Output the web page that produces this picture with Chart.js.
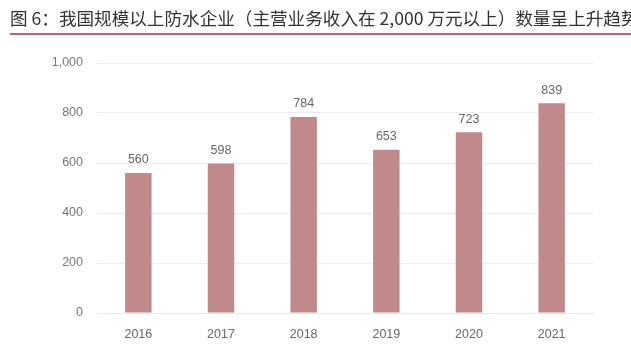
<!DOCTYPE html>
<html>
<head>
<meta charset="utf-8">
<script src="https://cdn.jsdelivr.net/npm/chart.js@4/dist/chart.umd.min.js"></script>
<style>
	body { margin: 0; background: #fff; }
	#wrap { position: relative; width: 631px; height: 353px; overflow: hidden; }
	#title {
		position: absolute; left: 10px; top: 6px; width: 640px;
		font-family: "Noto Sans CJK SC", sans-serif; font-size: 17.6px; color: #333;
		white-space: nowrap; line-height: 24px;
		padding-bottom: 3px; border-bottom: 2px solid #c4606a;
	}
	#chart { position: absolute; left: 0; top: 0; }
</style>
</head>
<body>
<div id="wrap">
	<canvas id="chart" width="631" height="353"></canvas>
	<div id="title">图 6：我国规模以上防水企业（主营业务收入在 2,000 万元以上）数量呈上升趋势</div>
</div>
<script>
const years = ['2016', '2017', '2018', '2019', '2020', '2021'];
const companyCounts = [560, 598, 784, 653, 723, 839];

// value labels above each bar
const barLabels = {
	id: 'barLabels',
	afterDatasetsDraw(chart) {
		const ctx = chart.ctx;
		const meta = chart.getDatasetMeta(0);
		ctx.save();
		ctx.font = '12.5px "Liberation Sans", Arial, sans-serif';
		ctx.fillStyle = '#666';
		ctx.textAlign = 'center';
		ctx.textBaseline = 'middle';
		meta.data.forEach((bar, i) => {
			ctx.fillText(String(companyCounts[i]), bar.x, bar.y - 13);
		});
		ctx.restore();
	}
};

const ctx = document.getElementById('chart').getContext('2d');
new Chart(ctx, {
	type: 'bar',
	data: {
		labels: years,
		datasets: [{
			data: companyCounts,
			backgroundColor: '#c08a8a',
			barPercentage: 0.32,
			categoryPercentage: 1
		}]
	},
	options: {
		responsive: false,
		animation: false,
		layout: { padding: { top: 63, right: 38, left: 0, bottom: 0 } },
		plugins: { legend: { display: false }, tooltip: { enabled: false } },
		scales: {
			x: {
				grid: { display: false },
				border: { color: '#e6e6e6' },
				ticks: { color: '#666', font: { size: 12.5, family: '"Liberation Sans", Arial' }, padding: 6 },
				afterFit(scale) { scale.height = 40; }
			},
			y: {
				min: 0,
				max: 1000,
				ticks: {
					stepSize: 200,
					color: '#777',
					font: { size: 12.5, family: '"Liberation Sans", Arial' },
					padding: 14,
					callback: v => v.toLocaleString('en-US')
				},
				grid: { color: '#ececec', drawTicks: false },
				border: { display: false },
				afterFit(scale) { scale.width = 97; }
			}
		}
	},
	plugins: [barLabels]
});
</script>
</body>
</html>
